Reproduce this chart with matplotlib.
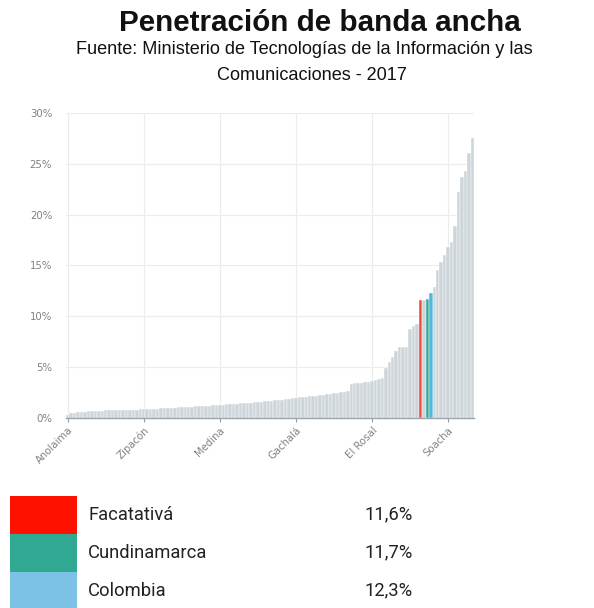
import numpy as np
import matplotlib.pyplot as plt
from matplotlib.ticker import FuncFormatter

plt.rcParams['font.family'] = ['Roboto', 'DejaVu Sans']

# -----------------------------------------------------------------------------
# penetracion (%) ordenada, municipios de Cundinamarca + departamento + pais
valores = [0.3, 0.5, 0.5, 0.6, 0.6, 0.6, 0.65, 0.65, 0.7, 0.7,
           0.7, 0.75, 0.75, 0.75, 0.78, 0.78, 0.8, 0.8, 0.8, 0.82,
           0.82, 0.85, 0.85, 0.86, 0.88, 0.9, 0.92, 0.95, 0.97, 1.0,
           1.0, 1.02, 1.05, 1.07, 1.1, 1.1, 1.12, 1.15, 1.17, 1.2,
           1.2, 1.22, 1.25, 1.28, 1.3, 1.32, 1.35, 1.37, 1.4, 1.42,
           1.45, 1.48, 1.5, 1.52, 1.55, 1.58, 1.6, 1.63, 1.66, 1.7,
           1.73, 1.76, 1.8, 1.84, 1.88, 1.93, 2.0, 2.03, 2.06, 2.1,
           2.13, 2.17, 2.2, 2.24, 2.28, 2.32, 2.37, 2.42, 2.47, 2.53,
           2.6, 2.7, 3.35, 3.4, 3.45, 3.45, 3.5, 3.55, 3.6, 3.75,
           3.8, 3.9, 4.9, 5.5, 6.0, 6.6, 7.0, 7.0, 7.0, 8.7,
           9.0, 9.2, 11.6, 11.6, 11.7, 12.3, 12.9, 14.5, 15.3, 16.0,
           16.8, 17.3, 18.9, 22.2, 23.7, 24.3, 26.0, 27.5]
idx_facatativa = 102
idx_cundinamarca = 104
idx_colombia = 105

etiquetas = ["Anolaima", "Zipacón", "Medina", "Gachalá", "El Rosal", "Soacha"]
pos_etiquetas = [0, 22, 44, 66, 88, 110]

leyenda_nombres = ["Facatativá", "Cundinamarca", "Colombia"]
leyenda_valores = ["11,6%", "11,7%", "12,3%"]
leyenda_colores = ["#ff1100", "#31a892", "#7cc1e6"]

# -----------------------------------------------------------------------------
colores = ["#cdd5da"] * len(valores)
colores[idx_facatativa] = "#ee4a3c"
colores[idx_cundinamarca] = "#35a895"
colores[idx_colombia] = "#4fb8e2"

fig = plt.figure(figsize=(5.94, 6.08), dpi=100)

fig.text(0.538, 0.962, "Penetración de banda ancha", ha="center", va="center",
         fontsize=21.3, fontweight="bold", color="#111111", family="Liberation Sans")
fig.text(0.512, 0.919, "Fuente: Ministerio de Tecnologías de la Información y las",
         ha="center", va="center", fontsize=13.1, color="#111111", family="Liberation Sans")
fig.text(0.525, 0.876, "Comunicaciones - 2017",
         ha="center", va="center", fontsize=13.1, color="#111111", family="Liberation Sans")

ax = fig.add_axes([0.111, 0.3125, 0.687, 0.502])
x = np.arange(len(valores))
ax.bar(x, valores, width=1.0, color=colores, edgecolor="white", linewidth=0.3, zorder=2)
ax.set_xlim(-0.5, len(valores) - 0.5)
ax.set_ylim(0, 30)
ax.set_yticks(np.arange(0, 31, 5))
ax.yaxis.set_major_formatter(FuncFormatter(lambda v, p: "%d%%" % v))
ax.set_xticks(pos_etiquetas)
ax.set_xticklabels(etiquetas, rotation=45, ha="right", rotation_mode="anchor")
for lab in ax.get_xticklabels() + ax.get_yticklabels():
    lab.set_family("DejaVu Sans")
ax.tick_params(axis="both", labelsize=7.3, colors="#808080", length=0)
ax.tick_params(axis="y", pad=10)
ax.tick_params(axis="x", length=3, color="#999999", pad=2)
ax.grid(True, color="#ececec", linewidth=0.8, zorder=0)
for s in ["top", "right", "left"]:
    ax.spines[s].set_visible(False)
ax.spines["bottom"].set_color("#9aa3a9")
ax.spines["bottom"].set_linewidth(1.0)
ax.spines["bottom"].set_zorder(3)

# leyenda
lg = fig.add_axes([0, 0, 1, 0.185])
lg.set_xlim(0, 594)
lg.set_ylim(112.5, 0)
lg.axis("off")
for i in range(len(leyenda_nombres)):
    yc = 19 + 38 * i
    lg.barh(yc, 67, left=10, height=38, color=leyenda_colores[i])
    lg.text(88, yc, leyenda_nombres[i], va="center", fontsize=13.2, color="#222222")
    lg.text(365, yc, leyenda_valores[i], va="center", fontsize=13.2, color="#222222")

plt.savefig("out.png", dpi=100)
